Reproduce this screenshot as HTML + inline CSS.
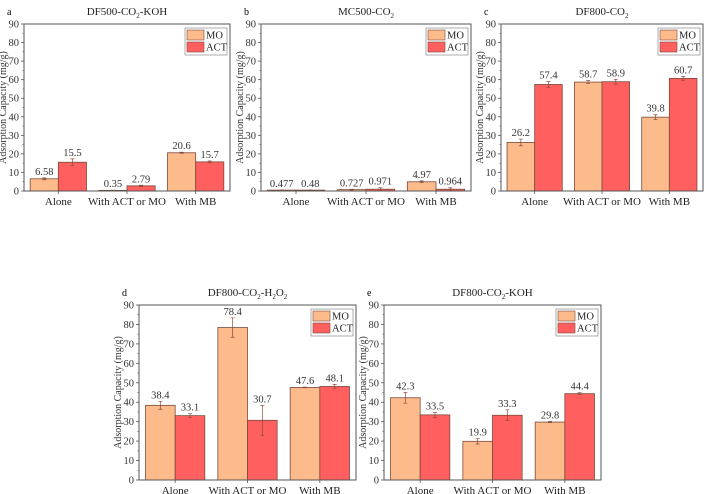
<!DOCTYPE html>
<html><head><meta charset="utf-8"><style>
html,body{margin:0;padding:0;background:#fff;}
svg{display:block;font-family:"Liberation Serif",serif;}
</style></head><body>
<svg id="fig" width="709" height="494" viewBox="0 0 709 494" xmlns="http://www.w3.org/2000/svg"></svg>
<script>
const categories = ["Alone","With ACT or MO","With MB"];
const yTicks = [0,10,20,30,40,50,60,70,80,90];
const seriesNames = ["MO","ACT"];
const aMO = [6.58,0.35,20.6], aACT = [15.5,2.79,15.7];
const aMOerr = [0.5,0.1,0.3], aACTerr = [1.8,0.3,0.5];
const aMOlab = ["6.58","0.35","20.6"], aACTlab = ["15.5","2.79","15.7"];
const bMO = [0.477,0.727,4.97], bACT = [0.48,0.971,0.964];
const bMOerr = [0.1,0.2,0.5], bACTerr = [0.1,0.8,0.8];
const bMOlab = ["0.477","0.727","4.97"], bACTlab = ["0.48","0.971","0.964"];
const cMO = [26.2,58.7,39.8], cACT = [57.4,58.9,60.7];
const cMOerr = [1.8,0.8,1.3], cACTerr = [1.6,1.3,1.0];
const cMOlab = ["26.2","58.7","39.8"], cACTlab = ["57.4","58.9","60.7"];
const dMO = [38.4,78.4,47.6], dACT = [33.1,30.7,48.1];
const dMOerr = [2.0,5.0,0.2], dACTerr = [1.0,7.7,1.0];
const dMOlab = ["38.4","78.4","47.6"], dACTlab = ["33.1","30.7","48.1"];
const eMO = [42.3,19.9,29.8], eACT = [33.5,33.3,44.4];
const eMOerr = [2.8,1.4,0.3], eACTerr = [1.3,2.8,0.5];
const eMOlab = ["42.3","19.9","29.8"], eACTlab = ["33.5","33.3","44.4"];

const NS="http://www.w3.org/2000/svg";
const svg=document.getElementById('fig');
function mk(tag,attrs,parent,text){const e=document.createElementNS(NS,tag);for(const k in attrs)e.setAttribute(k,attrs[k]);if(text!==undefined)e.textContent=text;(parent||svg).appendChild(e);return e;}

const panels=[
 {id:"a",letter:"a",title:["DF500-CO","2","-KOH",""],L:24,R:230,T:24,B:191,mo:aMO,act:aACT,me:aMOerr,ae:aACTerr,ml:aMOlab,al:aACTlab},
 {id:"b",letter:"b",title:["MC500-CO","2","",""],L:261,R:471,T:24,B:191,mo:bMO,act:bACT,me:bMOerr,ae:bACTerr,ml:bMOlab,al:bACTlab},
 {id:"c",letter:"c",title:["DF800-CO","2","",""],L:501,R:703,T:24,B:191,mo:cMO,act:cACT,me:cMOerr,ae:cACTerr,ml:cMOlab,al:cACTlab},
 {id:"d",letter:"d",title:["DF800-CO","2","-H","2","O","2"],L:139,R:356,T:305,B:480,mo:dMO,act:dACT,me:dMOerr,ae:dACTerr,ml:dMOlab,al:dACTlab},
 {id:"e",letter:"e",title:["DF800-CO","2","-KOH",""],L:384,R:601,T:305,B:480,mo:eMO,act:eACT,me:eMOerr,ae:eACTerr,ml:eMOlab,al:eACTlab}
];
const MOC="#fdbb8c", ACTC="#ff5f5f";
panels.forEach(p=>{
 const g=mk('g',{});
 
 
 const y=v=>p.B-(v/90)*(p.B-p.T);
 const W=p.R-p.L, band=W/3, bw=band*0.41;
 const cx=i=>p.L+band*(i+0.5);
 const lt=mk('text',{x:p.L-17,y:p.T-9,'font-size':10},g,p.letter);
 
 const tt=mk('text',{x:(p.L+p.R)/2,y:p.T-9,'font-size':11,'font-weight':'normal','text-anchor':'middle',fill:'#222'},g);
 
 for(let k=0;k<p.title.length;k++){ if(!p.title[k])continue; const ts=mk('tspan',{},tt,p.title[k]); if(k%2===1){ts.setAttribute('font-size','7');ts.setAttribute('dy','3');} else if(k>0){ts.setAttribute('dy','-3');} }
 [[p.mo,p.me,p.ml,MOC,-1,'mo'],[p.act,p.ae,p.al,ACTC,0,'act']].forEach(s=>{
  const [vals,errs,labs,col,off,nm]=s;
  vals.forEach((v,i)=>{
   const x=cx(i)+off*bw;
   const r=mk('rect',{x:x,y:y(v),width:bw,height:p.B-y(v),fill:col,stroke:'#7a4a3a','stroke-width':0.8},g);
   
   const ex=x+bw/2, e1=y(v+errs[i]), e2=y(Math.max(0,v-errs[i]));
   const eb=mk('path',{d:`M${ex},${e1}V${e2}M${ex-2},${e1}H${ex+2}M${ex-2},${e2}H${ex+2}`,stroke:'#8a4a3a','stroke-width':0.7,fill:'none'},g);
   
   const vl=mk('text',{x:ex,y:e1-3,'font-size':10.5,'text-anchor':'middle',fill:'#333'},g,labs[i]);
   
  });
 });
 const fr=mk('rect',{x:p.L,y:p.T,width:W,height:p.B-p.T,fill:'none',stroke:'#555','stroke-width':1},g);
 
 yTicks.forEach(t=>{
  mk('line',{x1:p.L-3,x2:p.L,y1:y(t),y2:y(t),stroke:'#555','stroke-width':0.8},g);
  if(t<90) mk('line',{x1:p.L-1.5,x2:p.L,y1:y(t+5),y2:y(t+5),stroke:'#555','stroke-width':0.6},g);
  const tl=mk('text',{x:p.L-5,y:y(t)+3.5,'font-size':10.5,'text-anchor':'end',fill:'#333'},g,t);
  
 });
 categories.forEach((c,i)=>{
  mk('line',{x1:cx(i),x2:cx(i),y1:p.B,y2:p.B+3,stroke:'#555','stroke-width':0.8},g);
  const cl=mk('text',{x:cx(i),y:p.B+14,'font-size':11,'text-anchor':'middle',fill:'#222'},g,c);
  
 });
 const yt=mk('text',{transform:`translate(${p.L-18},${(p.T+p.B)/2}) rotate(-90)`,'font-size':10,'text-anchor':'middle',fill:'#333'},g,'Adsorption Capacity (mg/g)');
 
 const lx=p.R-45, ly=p.T+4;
 const lg=mk('g',{},g);
 
 mk('rect',{x:lx,y:ly,width:42,height:27,fill:'#fff',stroke:'#777','stroke-width':0.6},lg);
 seriesNames.forEach((n,k)=>{
  const le=mk('g',{},lg);
  
  mk('rect',{x:lx+2,y:ly+2+k*12,width:17,height:10,fill:k?ACTC:MOC,stroke:'#7a4a3a','stroke-width':0.6},le);
  mk('text',{x:lx+21,y:ly+10.5+k*12,'font-size':10.5,fill:'#222'},le,n);
 });
});
</script>
</body></html>
